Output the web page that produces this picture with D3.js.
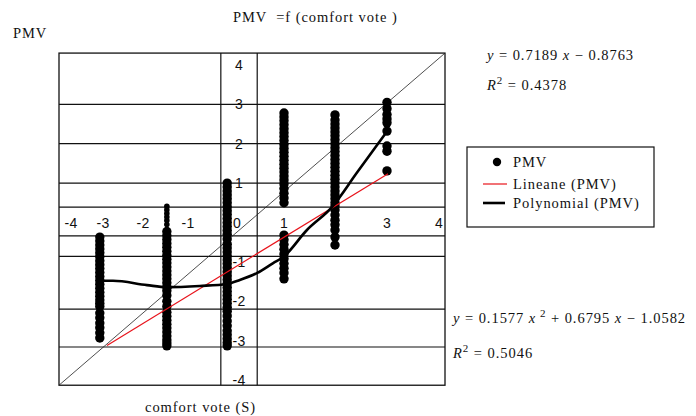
<!DOCTYPE html>
<html><head><meta charset="utf-8">
<script src="https://cdn.jsdelivr.net/npm/d3@7"></script>
<style>
html,body{margin:0;padding:0;background:#fff;}
svg{display:block;}
.serif{font-family:"Liberation Serif","Times New Roman",serif;letter-spacing:0.95px;}
.sans{font-family:"Liberation Sans",Arial,sans-serif;letter-spacing:0.4px;}
</style></head>
<body>
<svg id="chart" width="696" height="416"></svg>
<script>
// ---- data ----
const xTicks = [-4, -3, -2, -1, 0, 1, 2, 3, 4];
const yTicks = [4, 3, 2, 1, -1, -2, -3, -4];
const hGrid = [3, 2, 1, 0.39, -0.34, -0.86, -2.2, -3.16];
const vGrid = [-0.33, 0.43];
const frameX = [-4.42, 4.14];
const frameY = [-4.13, 4.30];

const colX = [-3.1, -1.47, -0.2, 1, 2, 3];
const pmvA = [-0.37,-0.47,-0.57,-0.67,-0.77,-0.87,-0.97,-1.07,-1.17,-1.27,-1.37,-1.47,-1.57,-1.67,-1.77,-1.87,-1.97,-2.05,-2.13,-2.3,-2.42,-2.55,-2.67,-2.8,-2.93];
const pmvB = [-0.23,-0.33,-0.43,-0.53,-0.63,-0.73,-0.83,-0.93,-1.03,-1.13,-1.23,-1.33,-1.43,-1.53,-1.63,-1.73,-1.85,-2.0,-2.13,-2.28,-2.38,-2.48,-2.58,-2.68,-2.78,-2.88,-2.98,-3.06,-3.13];
const pmvBsmall = [0.41, 0.32, 0.23, 0.14, 0.05, -0.05];
const pmvC = [1.0,0.9,0.8,0.7,0.6,0.5,0.4,0.3,0.2,0.1,0.0,-0.1,-0.2,-0.3,-0.42,-0.55,-0.65,-0.75,-0.85,-0.95,-1.05,-1.15,-1.25,-1.35,-1.45,-1.55,-1.65,-1.75,-1.85,-1.95,-2.05,-2.15,-2.25,-2.37,-2.5,-2.62,-2.75,-2.85,-2.95,-3.05,-3.13];
const pmvD = [2.78,2.68,2.58,2.48,2.38,2.28,2.18,2.08,1.98,1.88,1.78,1.68,1.58,1.48,1.38,1.28,1.18,1.08,0.98,0.86,0.74,0.62,0.5,-0.32,-0.44,-0.56,-0.68,-0.8,-0.92,-1.04,-1.16,-1.28,-1.43];
const pmvE = [2.73,2.6,2.5,2.4,2.3,2.2,2.1,2.0,1.9,1.8,1.7,1.6,1.5,1.4,1.3,1.2,1.1,1.0,0.9,0.8,0.7,0.6,0.5,0.42,0.32,0.19,0.06,-0.06,-0.19,-0.37,-0.57];
const pmvF = [3.05,2.89,2.74,2.63,2.53,2.32,1.94,1.81,1.31];
const pmvCols = [pmvA, pmvB, pmvC, pmvD, pmvE, pmvF];

const linearX = [-2.9, 3.02];
const linearY = [-3.12, 1.24];
const polyX = [-3.1,-2.75,-1.91,-1.47,-0.76,-0.2,0.06,0.43,0.77,0.98,1.45,1.94,2.42,3.02];
const polyY = [-1.48,-1.48,-1.59,-1.64,-1.61,-1.56,-1.46,-1.28,-1.03,-0.88,-0.19,0.39,1.26,2.35];

const title = "PMV  =f (comfort vote )";
const yTitle = "PMV";
const xTitle = "comfort vote (S)";
const legendLabels = ["PMV", "Lineane (PMV)", "Polynomial (PMV)"];

// ---- scales ----
const x = d3.scaleLinear()
  .domain([-4.42, -4, -3, -2, -1, 0, 1, 2, 3, 4, 4.14])
  .range([59, 71, 103, 143, 188, 237, 284, 335, 387, 439, 445]);
const y = d3.scaleLinear().domain([-4, 4]).range([380.1, 64.9]);

const svg = d3.select("#chart");

// grid
const g = svg.append("g");
g.selectAll("line.h").data(hGrid).join("line")
  .attr("x1", x(frameX[0])).attr("x2", x(frameX[1]))
  .attr("y1", d => y(d)).attr("y2", d => y(d))
  .attr("stroke", "#111").attr("stroke-width", 1.2);
g.selectAll("line.v").data(vGrid).join("line")
  .attr("y1", y(frameY[0])).attr("y2", y(frameY[1]))
  .attr("x1", d => x(d)).attr("x2", d => x(d))
  .attr("stroke", "#111").attr("stroke-width", 1.2);
g.append("rect")
  .attr("x", x(frameX[0])).attr("y", y(frameY[1]))
  .attr("width", x(frameX[1]) - x(frameX[0]))
  .attr("height", y(frameY[0]) - y(frameY[1]))
  .attr("fill", "none").attr("stroke", "#111").attr("stroke-width", 1.3);

// tick labels
svg.append("g").selectAll("text").data(xTicks).join("text")
  .attr("class", "sans").attr("font-size", 14).attr("fill", "#111")
  .attr("x", d => x(d)).attr("y", y(0) + 5)
  .attr("text-anchor", "middle")
  .text(d => d < 0 ? "-" + Math.abs(d) : d);
svg.append("g").selectAll("text").data(yTicks).join("text")
  .attr("class", "sans").attr("font-size", 14).attr("fill", "#111")
  .attr("x", x(0) + 2).attr("y", d => y(d) + 5)
  .attr("text-anchor", "middle")
  .text(d => d < 0 ? "-" + Math.abs(d) : d);

// diagonal
svg.append("line")
  .attr("x1", x(frameX[0])).attr("y1", y(frameY[0]))
  .attr("x2", x(frameX[1])).attr("y2", y(frameY[1]))
  .attr("stroke", "#222").attr("stroke-width", 0.8);

// dots
const dots = svg.append("g");
pmvCols.forEach((col, i) => {
  dots.selectAll(null).data(col).join("circle")
    .attr("cx", x(colX[i])).attr("cy", d => y(d)).attr("r", 4.7).attr("fill", "#000");
});
dots.selectAll(null).data(pmvBsmall).join("circle")
  .attr("cx", x(colX[1])).attr("cy", d => y(d)).attr("r", 2.8).attr("fill", "#000");

// trend lines
svg.append("line")
  .attr("x1", x(linearX[0])).attr("y1", y(linearY[0]))
  .attr("x2", x(linearX[1])).attr("y2", y(linearY[1]))
  .attr("stroke", "#e8141c").attr("stroke-width", 1.2);
const polyPts = polyX.map((v, i) => [v, polyY[i]]);
svg.append("path")
  .attr("d", d3.line().x(d => x(d[0])).y(d => y(d[1])).curve(d3.curveMonotoneX)(polyPts))
  .attr("fill", "none").attr("stroke", "#000").attr("stroke-width", 2.6);

// titles
svg.append("text").attr("class", "serif").attr("font-size", 14.5).attr("fill", "#111")
  .attr("x", 233).attr("y", 22).attr("xml:space", "preserve").text(title);
svg.append("text").attr("class", "serif").attr("font-size", 14.5).attr("fill", "#111")
  .attr("x", 13).attr("y", 38).text(yTitle);
svg.append("text").attr("class", "serif").attr("font-size", 14.5).attr("fill", "#111")
  .attr("x", 145).attr("y", 412).text(xTitle);

// equations
function eq(xp, yp, parts) {
  const t = svg.append("text").attr("class", "serif").attr("font-size", 14.5)
    .attr("fill", "#111").attr("x", xp).attr("y", yp).attr("xml:space", "preserve");
  parts.forEach(p => {
    const s = t.append("tspan").text(p.t);
    if (p.i) s.attr("font-style", "italic");
    if (p.sup) s.attr("dy", -6).attr("font-size", 11);
    if (p.down) s.attr("dy", 6);
  });
}
eq(487, 60, [{t:"y",i:1},{t:" = 0.7189 "},{t:"x",i:1},{t:" \u2212 0.8763"}]);
eq(487, 90, [{t:"R",i:1},{t:"2",sup:1},{t:" = 0.4378",down:1}]);
eq(453, 323, [{t:"y",i:1},{t:" = 0.1577 "},{t:"x",i:1},{t:" 2",sup:1},{t:" + 0.6795 ",down:1},{t:"x",i:1},{t:" \u2212 1.0582"}]);
eq(453, 358, [{t:"R",i:1},{t:"2",sup:1},{t:" = 0.5046",down:1}]);

// legend
const lg = svg.append("g");
lg.append("rect").attr("x", 467).attr("y", 147).attr("width", 187).attr("height", 80)
  .attr("fill", "#fff").attr("stroke", "#111").attr("stroke-width", 1.2);
lg.append("circle").attr("cx", 497).attr("cy", 162).attr("r", 4.2).attr("fill", "#000");
lg.append("line").attr("x1", 483).attr("x2", 507).attr("y1", 184).attr("y2", 184)
  .attr("stroke", "#e8141c").attr("stroke-width", 1.2);
lg.append("line").attr("x1", 483).attr("x2", 505).attr("y1", 203).attr("y2", 203)
  .attr("stroke", "#000").attr("stroke-width", 2.6);
lg.selectAll("text").data(legendLabels).join("text")
  .attr("class", "serif").attr("font-size", 14.5).attr("fill", "#111")
  .attr("x", 513).attr("y", (d, i) => [167, 189, 208][i]).text(d => d);
</script>
</body></html>
